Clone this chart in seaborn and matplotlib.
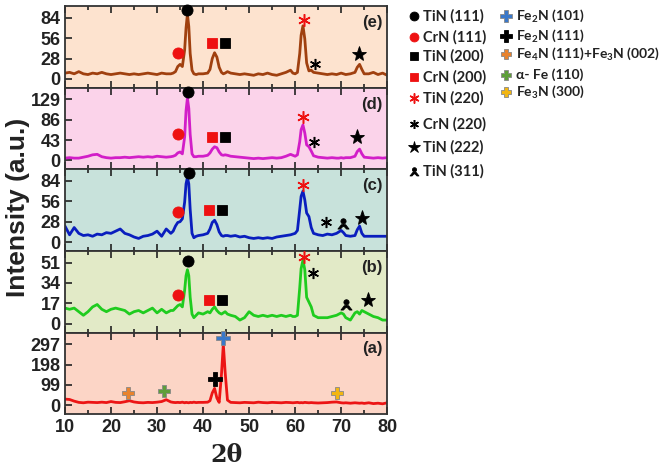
import numpy as np
import pandas as pd
import matplotlib
matplotlib.use('Agg')
import matplotlib.pyplot as plt
import seaborn as sns
from matplotlib.path import Path
from matplotlib.ticker import MultipleLocator

# ================= DATA =================
two_theta = [
    10, 11, 12, 13, 14, 15, 16, 17, 18, 19, 20, 21, 22, 23, 24, 25, 26, 27, 28, 29, 30, 31, 32, 33,
    33.5, 34, 34.5, 35, 35.5, 36, 36.3, 36.6, 36.9, 37.2, 37.6, 38, 38.5, 39,
    40, 41, 41.5, 42, 42.5, 43, 43.5, 44, 44.4, 44.8, 45.3, 46,
    47, 48, 49, 50, 51, 52, 53, 54, 55, 56, 57, 58, 59,
    59.5, 60, 60.5, 61, 61.3, 61.7, 62.1, 62.5, 63, 63.5, 64,
    65, 66, 67, 68, 69, 69.5, 70, 70.5, 71, 72, 73, 73.5, 74, 74.5, 75,
    76, 77, 78, 79, 80,
]

int_e = [
    8, 9, 7, 10, 7, 6, 8, 7, 9, 7, 6, 7, 8, 7, 6, 7, 6, 7, 8, 7, 6, 8, 7, 7,
    8, 10, 17, 20, 17, 40, 70, 89, 72, 35, 12, 7, 6, 7,
    7, 8, 13, 28, 36, 30, 16, 9, 7, 8, 10, 8,
    7, 6, 7, 6, 5, 7, 6, 8, 6, 5, 7, 9, 12,
    8, 7, 9, 35, 60, 73, 55, 22, 11, 12, 9,
    8, 7, 6, 7, 6, 7, 8, 7, 6, 7, 9, 16, 20, 13, 7,
    7, 9, 6, 8, 5,
]

int_d = [
    5, 6, 5, 5, 7, 9, 12, 13, 8, 6, 5, 6, 6, 7, 6, 7, 8, 7, 8, 7, 9, 8, 7, 8,
    9, 11, 16, 18, 14, 50, 105, 132, 110, 55, 14, 8, 8, 9,
    9, 11, 16, 24, 29, 27, 18, 12, 11, 12, 11, 9,
    8, 7, 6, 5, 4, 5, 4, 5, 6, 5, 6, 9, 13,
    11, 9, 12, 40, 65, 75, 58, 33, 29, 20, 10,
    7, 6, 5, 6, 5, 5, 6, 5, 6, 6, 9, 19, 24, 14, 7,
    6, 5, 6, 5, 6,
]

int_c = [
    22, 10, 20, 12, 9, 10, 8, 11, 10, 13, 12, 15, 18, 12, 10, 7, 5, 8, 9, 11, 15, 8, 18, 12,
    15, 22, 27, 28, 32, 55, 80, 89, 80, 45, 12, 6, 8, 9,
    10, 12, 18, 27, 30, 24, 14, 9, 8, 9, 9, 8,
    9, 7, 8, 6, 5, 6, 5, 6, 5, 7, 8, 9, 10,
    11, 12, 16, 45, 63, 70, 58, 40, 35, 20, 12,
    10, 9, 11, 10, 12, 14, 16, 13, 9, 8, 9, 17, 22, 12, 8,
    8, 8, 8, 8, 8,
]

int_b = [
    13, 12, 13, 10, 7, 10, 14, 16, 12, 10, 12, 13, 12, 11, 8, 10, 11, 9, 11, 13, 9, 12, 9, 11,
    11, 13, 15, 16, 14, 28, 40, 45, 40, 22, 8, 5, 7, 9,
    8, 10, 9, 12, 14, 11, 9, 8, 9, 10, 8, 7,
    6, 3, 5, 10, 7, 6, 7, 6, 7, 6, 7, 6, 7,
    6, 6, 7, 30, 46, 53, 45, 22, 18, 14, 7,
    5, 5, 5, 6, 7, 8, 9, 8, 5, 3, 9, 10, 8, 11, 10,
    8, 6, 5, 3, 3,
]

int_a = [
    30, 28, 20, 14, 12, 15, 14, 13, 15, 13, 18, 14, 13, 17, 22, 16, 13, 12, 14, 13, 15, 18, 27, 16,
    14, 13, 14, 13, 15, 12, 14, 13, 12, 14, 13, 15, 13, 14,
    14, 15, 22, 60, 82, 35, 14, 150, 297, 160, 25, 14,
    13, 12, 14, 13, 12, 15, 13, 12, 14, 13, 12, 14, 13,
    12, 13, 14, 12, 13, 12, 14, 13, 12, 13, 12,
    11, 12, 13, 15, 16, 14, 12, 11, 12, 10, 12, 11, 10, 11, 9,
    12, 8, 10, 7, 12,
]

# phase marks: (phase, 2theta, height)
marks_e = [("TiN111", 36.6, 95), ("CrN111", 34.5, 36), ("CrN200", 41.9, 50), ("TiN200", 44.8, 50),
           ("TiN220", 61.9, 81), ("CrN220", 64.3, 20), ("TiN222", 73.9, 34)]
marks_d = [("TiN111", 36.7, 144), ("CrN111", 34.5, 56), ("CrN200", 41.9, 50), ("TiN200", 44.8, 50),
           ("TiN220", 61.7, 91), ("CrN220", 64.1, 40), ("TiN222", 73.4, 49)]
marks_c = [("TiN111", 37.0, 95), ("CrN111", 34.5, 41), ("CrN200", 41.2, 44), ("TiN200", 44.1, 44),
           ("TiN220", 61.8, 78), ("CrN220", 66.7, 27), ("TiN311", 70.4, 26), ("TiN222", 74.5, 33)]
marks_b = [("TiN111", 36.7, 52), ("CrN111", 34.5, 24), ("CrN200", 41.3, 20), ("TiN200", 44.2, 20),
           ("TiN220", 61.9, 56), ("CrN220", 63.8, 42), ("TiN311", 71.0, 16), ("TiN222", 75.9, 20)]
marks_a = [("Fe2N101", 44.4, 326), ("Fe2N111", 42.5, 130), ("Fe4N", 23.6, 62),
           ("aFe", 31.6, 70), ("Fe3N300", 69.1, 62)]

panel_names = ["(e)", "(d)", "(c)", "(b)", "(a)"]
panel_ticks = [[0, 28, 56, 84], [0, 43, 86, 129], [0, 28, 56, 84], [0, 17, 34, 51], [0, 99, 198, 297]]
panel_data = [int_e, int_d, int_c, int_b, int_a]
panel_marks = [marks_e, marks_d, marks_c, marks_b, marks_a]
line_colors = ["#a0400f", "#d21ec8", "#0a1ebe", "#1fcc1f", "#ec1515"]
bg_colors = ["#fde3cf", "#fbd3ea", "#c8e2db", "#e2eac7", "#fcd5c6"]

legend_left = [("TiN111", "TiN (111)"), ("CrN111", "CrN (111)"), ("TiN200", "TiN (200)"),
               ("CrN200", "CrN (200)"), ("TiN220", "TiN (220)"), ("CrN220", "CrN (220)"),
               ("TiN222", "TiN (222)"), ("TiN311", "TiN (311)")]
legend_right = [("Fe2N101", r"Fe$_\mathbf{2}$N (101)"), ("Fe2N111", r"Fe$_\mathbf{2}$N (111)"),
                ("Fe4N", r"Fe$_\mathbf{4}$N (111)+Fe$_\mathbf{3}$N (002)"),
                ("aFe", "α- Fe (110)"), ("Fe3N300", r"Fe$_\mathbf{3}$N (300)")]

# ================= STYLE =================
# little "head on a base" symbol used for TiN (311)
_head = Path.circle((0, 0.35), 0.42)
_base = Path([(-0.9, -0.9), (-0.35, -0.2), (0.35, -0.2), (0.9, -0.9), (0.5, -0.9),
              (0.12, -0.5), (-0.12, -0.5), (-0.5, -0.9), (-0.9, -0.9)],
             [Path.MOVETO] + [Path.LINETO] * 7 + [Path.CLOSEPOLY])
TIN311 = Path.make_compound_path(_head, _base)
ASTER = (6, 2, 0)

STYLES = {
    "TiN111": dict(marker="o", color="black", ms=8),
    "CrN111": dict(marker="o", color="#ee1111", ms=8),
    "TiN200": dict(marker="s", color="black", ms=7),
    "CrN200": dict(marker="s", color="#ee1111", ms=7),
    "TiN220": dict(marker=ASTER, color="#ee1111", ms=9),
    "CrN220": dict(marker=ASTER, color="black", ms=8),
    "TiN222": dict(marker="*", color="black", ms=11),
    "TiN311": dict(marker=TIN311, color="black", ms=8),
    "Fe2N101": dict(marker="P", color="#3a78c9", ms=10),
    "Fe2N111": dict(marker="P", color="black", ms=10),
    "Fe4N": dict(marker="P", color="#e8832e", ms=9),
    "aFe": dict(marker="P", color="#5e9e3a", ms=9),
    "Fe3N300": dict(marker="P", color="#f3b611", ms=9),
}


def draw_mark(ax, key, x, y, scale=1.0):
    st = STYLES[key]
    if st["marker"] == ASTER:
        mew, mec = 1.1, st["color"]
    elif st["marker"] == "P" and st["color"] != "black":
        mew, mec = 0.6, "#888888"
    else:
        mew, mec = 0.6, st["color"]
    ax.plot([x], [y], linestyle="none", marker=st["marker"], color=st["color"],
            markersize=st["ms"] * scale, markeredgewidth=mew, markeredgecolor=mec,
            clip_on=False, zorder=5)


# ================= PLOT =================
sns.set_theme(style="ticks")
plt.rcParams['font.family'] = ['Liberation Sans', 'DejaVu Sans']
plt.rcParams['mathtext.fontset'] = 'custom'
plt.rcParams['mathtext.rm'] = 'Lato'
plt.rcParams['mathtext.bf'] = 'Lato:bold'

fig, axes = plt.subplots(5, 1, figsize=(6.63, 4.76), dpi=100, sharex=True,
                         gridspec_kw=dict(hspace=0))
fig.subplots_adjust(left=0.098, right=0.584, top=0.987, bottom=0.130)

for ax, name, ticks, vals, marks, lc, bg in zip(axes, panel_names, panel_ticks, panel_data,
                                                panel_marks, line_colors, bg_colors):
    df = pd.DataFrame({"two_theta": two_theta, "intensity": vals})
    sns.lineplot(data=df, x="two_theta", y="intensity", ax=ax, color=lc, linewidth=2.0)
    ax.set_facecolor(bg)
    top = ticks[-1]
    ax.set_ylim(-0.145 * top, 1.19 * top)
    ax.set_yticks(ticks)
    ax.set_xlim(10, 80)
    ax.xaxis.set_major_locator(MultipleLocator(10))
    ax.xaxis.set_minor_locator(MultipleLocator(5))
    ax.tick_params(axis="both", which="both", direction="in", top=True, width=1.2,
                   labelsize=13, colors="#222222")
    ax.tick_params(axis="x", which="major", length=5)
    ax.tick_params(axis="x", which="minor", length=3)
    ax.tick_params(axis="y", length=5, pad=3)
    for lab in ax.get_yticklabels():
        lab.set_fontweight("bold")
    for sp in ax.spines.values():
        sp.set_linewidth(1.3)
        sp.set_color("#333333")
    ax.set_xlabel("")
    ax.set_ylabel("")
    for key, x, y in marks:
        draw_mark(ax, key, x, y)
    ax.text(0.985, 0.80, name, transform=ax.transAxes, ha="right", va="center",
            fontsize=12, fontweight="bold", color="#222222")

for lab in axes[-1].get_xticklabels():
    lab.set_fontweight("bold")

fig.text(18 / 663, 1 - 207 / 476, "Intensity (a.u.)", rotation=90, ha="center", va="center",
         fontsize=19, fontweight="bold", color="#222222")
fig.text(226 / 663, 1 - 455 / 476, "2θ", ha="center", va="center",
         fontsize=17, fontweight="bold", color="#222222", family=['DejaVu Serif'])

# phase legend, placed in figure pixel coordinates
lax = fig.add_axes([0, 0, 1, 1], zorder=-1)
lax.set_xlim(0, 663)
lax.set_ylim(476, 0)
lax.axis("off")

left_rows = [16, 37, 56, 77, 98, 124, 147, 171]
for (key, txt), yy in zip(legend_left, left_rows):
    draw_mark(lax, key, 414, yy, scale=0.8)
    lax.text(423, yy, txt, ha="left", va="center", fontsize=10.5, fontweight="bold",
             family=["Lato", "DejaVu Sans"], color="#222222")

right_rows = [16, 36, 54, 75, 92]
for (key, txt), yy in zip(legend_right, right_rows):
    draw_mark(lax, key, 506, yy, scale=0.8)
    lax.text(516, yy, txt, ha="left", va="center", fontsize=10, fontweight="bold",
             family=["Lato", "DejaVu Sans"], color="#222222")

fig.savefig("out.png", dpi=100)
